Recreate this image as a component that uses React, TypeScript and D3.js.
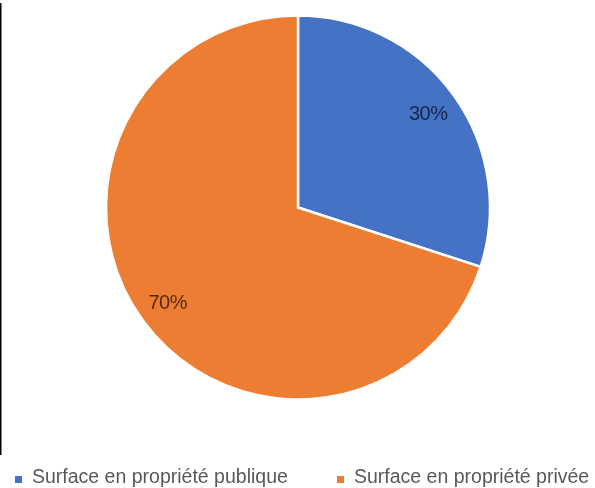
import React from "react";
import * as d3 from "d3";

const categories = ["Surface en propriété publique", "Surface en propriété privée"];
const values = [30, 70];
const labels = ["30%", "70%"];
const colors = ["#4472C4", "#ED7D31"];

const W = 595;
const H = 488;
const cx = 298;
const cy = 207.5;
const R = 192;
const labelR = 161;

export default function App() {
  const pie = d3.pie<number>().sort(null).value((d) => d);
  const arcs = pie(values);
  const arc = d3.arc<d3.PieArcDatum<number>>().innerRadius(0).outerRadius(R);
  const labelArc = d3.arc<d3.PieArcDatum<number>>().innerRadius(labelR).outerRadius(labelR);
  const color = d3.scaleOrdinal<string, string>().domain(categories).range(colors);
  const legendX = d3.scalePoint<string>().domain(categories).range([15, 337]);

  return (
    <svg
      width={W}
      height={H}
      style={{ position: "absolute", left: 0, top: 0, background: "#fff" }}
      fontFamily="Arial, 'Liberation Sans', sans-serif"
    >
      <defs>
        <filter id="soft" x="-5%" y="-5%" width="110%" height="110%">
          <feGaussianBlur stdDeviation="0.7" />
        </filter>
      </defs>
      <rect x={0} y={0} width={W} height={H} fill="#fff" />
      <g filter="url(#soft)">
        <line x1={0.75} x2={0.75} y1={3} y2={455} stroke="#000" strokeWidth={1.5} />
        <g transform={`translate(${cx},${cy})`}>
          {arcs.map((a, i) => (
            <path key={i} d={arc(a) || ""} fill={color(categories[i])} stroke="#fff" strokeWidth={2.5} />
          ))}
          {arcs.map((a, i) => {
            const [x, y] = labelArc.centroid(a);
            return (
              <text
                key={"l" + i}
                x={x}
                y={y}
                textAnchor="middle"
                dominantBaseline="central"
                fontSize={20}
                fill="#000"
                fillOpacity={0.65}
                letterSpacing={-0.5}
              >
                {labels[i]}
              </text>
            );
          })}
        </g>
        {categories.map((c, i) => {
          const x = legendX(c) as number;
          return (
            <g key={"lg" + i}>
              <rect x={x} y={476} width={7} height={7} fill={color(c)} />
              <text x={x + 17} y={483} fontSize={19.5} fill="#595959">
                {c}
              </text>
            </g>
          );
        })}
      </g>
    </svg>
  );
}
